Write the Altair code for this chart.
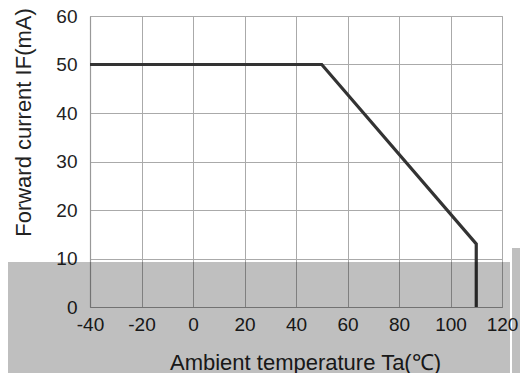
import altair as alt
import pandas as pd

# Derating curve: ambient temperature (°C) vs forward current (mA)
temps = [-40, 50, 110, 110]
currents = [50, 50, 13, 0]
x_ticks = [-40, -20, 0, 20, 40, 60, 80, 100, 120]
y_ticks = [0, 10, 20, 30, 40, 50, 60]

df = pd.DataFrame({"t": temps, "i": currents, "order": list(range(len(temps)))})
one = pd.DataFrame({"k": [0]})

FONT = "Liberation Sans"

line = alt.Chart(df).mark_line(color="#333333", strokeWidth=3.2, strokeJoin="miter").encode(
    x=alt.X("t:Q", scale=alt.Scale(domain=[-40, 120], nice=False, zero=False),
            axis=alt.Axis(values=x_ticks, title="Ambient temperature Ta(℃)",
                          labelExpr="'' + datum.value", labelFlush=False,
                          titleX=215, titleY=62, titleBaseline="alphabetic",
                          titleAlign="center", titleFontSize=22, labelPadding=8)),
    y=alt.Y("i:Q", scale=alt.Scale(domain=[0, 60], nice=False),
            axis=alt.Axis(values=y_ticks, title="Forward current IF(mA)",
                          labelFlush=False,
                          titleX=-60, titleY=106, titleAngle=270,
                          titleBaseline="alphabetic", titleAlign="center",
                          titleFontSize=22, labelPadding=13)),
    order="order:O",
)

# grey screenshot overlay band at the bottom
overlay_left = alt.Chart(one).mark_rect(color="#000000", opacity=0.25, clip=False).encode(
    x=alt.value(-90), x2=alt.value(420), y=alt.value(246), y2=alt.value(400)
)
overlay_right = alt.Chart(one).mark_rect(color="#000000", opacity=0.25, clip=False).encode(
    x=alt.value(422), x2=alt.value(460), y=alt.value(232), y2=alt.value(400)
)

chart = alt.layer(line, overlay_left, overlay_right).properties(
    width=412, height=291,
    autosize=alt.AutoSizeParams(type="none"),
    padding={"left": 82, "top": 8, "right": 18, "bottom": 66},
).configure_axis(
    grid=True, gridColor="#aaaaaa", gridWidth=1,
    domainColor="#999999", domainWidth=1.2,
    ticks=False,
    labelFont=FONT, labelFontSize=19, labelColor="#222222",
    titleFont=FONT, titleFontWeight="normal", titleColor="#222222",
).configure_view(stroke="#aaaaaa", strokeWidth=1)

chart.save("out.html", embed_options={"renderer": "svg", "actions": False})
